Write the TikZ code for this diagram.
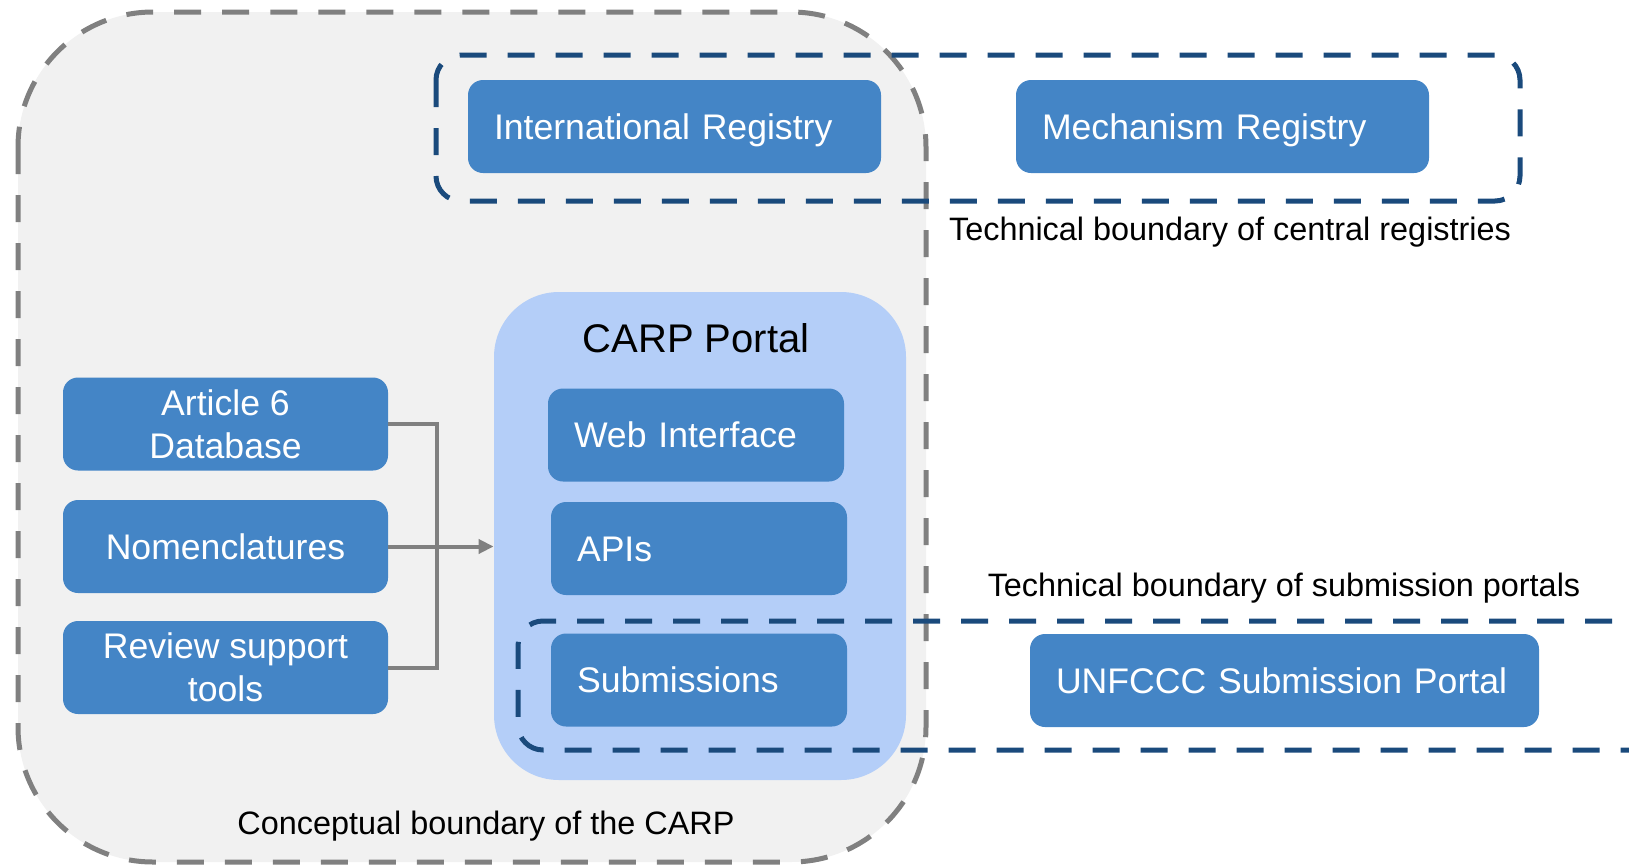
\documentclass[tikz,border=0pt]{standalone}
\usepackage{fontspec}
\setmainfont{Liberation Sans}
\usetikzlibrary{arrows.meta}

\definecolor{boxblue}{RGB}{68,133,198}
\definecolor{portalblue}{RGB}{180,206,248}
\definecolor{areagray}{RGB}{241,241,241}
\definecolor{linegray}{RGB}{128,128,128}
\definecolor{techblue}{RGB}{26,74,124}

\tikzset{
	unit/.style={rounded corners=7.5pt, fill=boxblue, text=white, inner ysep=0pt,
		font=\fontsize{17.8}{21.3}\selectfont, minimum height=46.5pt},
	regbox/.style={unit, text width=#1, align=left, inner xsep=13pt,
		text height=12.8pt, text depth=0pt},
	toolbox/.style={unit, minimum width=162.5pt, align=center, inner xsep=0pt},
	concept/.style={draw=linegray, fill=areagray, line width=2.5pt,
		dash pattern=on 13.5pt off 10.5pt, rounded corners=67.5pt},
	techline/.style={draw=techblue, line width=2.5pt,
		dash pattern=on 13.5pt off 10.5pt, rounded corners=12.5pt},
	note/.style={font=\fontsize{16.2}{19}\selectfont, text height=11.7pt, text depth=0pt},
	link/.style={draw=linegray, line width=2pt}
}

\begin{document}
\begin{tikzpicture}[x=0.5pt,y=-0.5pt]
		\useasboundingbox (0,0) rectangle (1629,868);

		% conceptual boundary
		\draw[concept] (18,12) rectangle (926,862);
		\node[note] (carpnote) at (486,823) {Conceptual boundary of the CARP};

		% portal
		\node[fill=portalblue, rounded corners=32.5pt, minimum width=206pt,
			minimum height=244pt] (portal) at (700,536) {};
		\node[font=\fontsize{20}{24}\selectfont] (portaltitle) at (696,338) {CARP Portal};
		\node[regbox=122pt] (web) at (696,435) {Web Interface};
		\node[regbox=122pt] (apis) at (699,548.5) {APIs};
		\node[regbox=122pt] (subm) at (699,680) {Submissions};

		% registries
		\node[regbox=180.5pt] (intreg) at (674.5,126.5) {International Registry};
		\node[regbox=180.5pt] (mechreg) at (1222.5,126.5) {Mechanism Registry};
		\draw[techline] (436,55) rectangle (1520,201);
		\node[note] (regnote) at (1230,229) {Technical boundary of central registries};

		% submission portals
		\node[regbox=228.5pt] (unfccc) at (1284.5,680.5) {UNFCCC Submission Portal};
		\draw[techline] (1660,621) -- (518,621) -- (518,750) -- (1660,750);
		\node[note] (subnote) at (1284,585) {Technical boundary of submission portals};

		% tools
		\node[toolbox] (art) at (225.5,424) {Article 6\\Database};
		\node[toolbox] (nom) at (225.5,546.5) {Nomenclatures};
		\node[toolbox] (rev) at (225.5,667.5) {Review support\\tools};

		\draw[link] (art.east) -- ++(49,0) |- (rev.east);
		\draw[link, -{Triangle[length=7.5pt, width=7pt]}] (nom.east) -- (nom.east -| portal.west);
	\end{tikzpicture}
\end{document}
